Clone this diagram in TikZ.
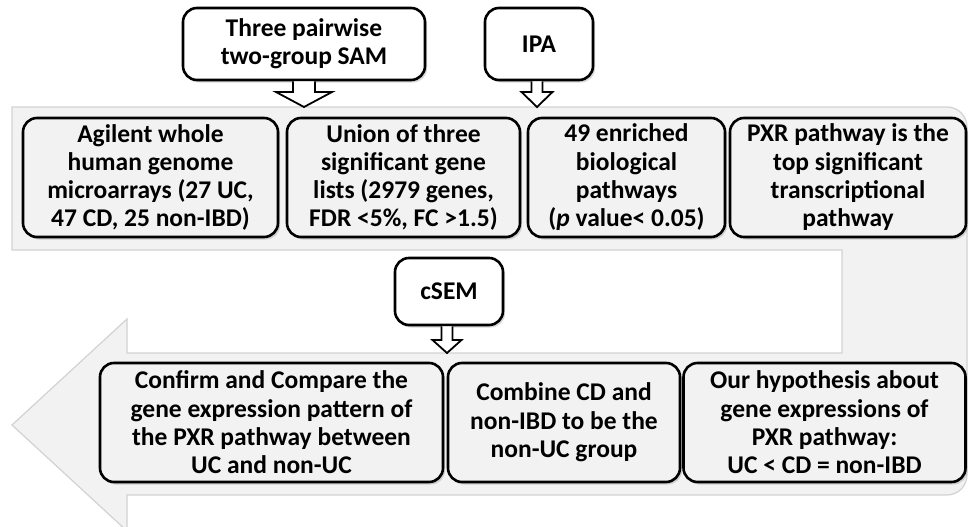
\documentclass[tikz,border=0pt]{standalone}
\usepackage{fontspec}
\setmainfont{Carlito}
\usetikzlibrary{calc,shadows}
\definecolor{bandfill}{HTML}{F2F2F2}
\definecolor{bandedge}{HTML}{D2D2D2}
\definecolor{boxfill}{HTML}{F2F2F2}
\begin{document}
\begin{tikzpicture}[x=1pt,y=-1pt,
  stepbox/.style={draw=black, line width=2.6pt, rounded corners=14pt, fill=boxfill,
    align=center, inner sep=0pt, minimum height=119pt,
    font=\fontsize{25.5}{28.3}\selectfont\bfseries,
    drop shadow={opacity=0.3, shadow xshift=2pt, shadow yshift=-2.5pt}},
  toolbox/.style={stepbox, fill=white},
  blockarr/.style={draw=black, line width=1.8pt, fill=white, line join=miter}]
\useasboundingbox (0,0) rectangle (969,527);

% U-turn band carrying the workflow
\path[fill=bandfill, draw=bandedge, line width=1.2pt]
  (12,107) -- (947,107) arc[start angle=-90, end angle=0, radius=20]
  -- (967,475) arc[start angle=0, end angle=90, radius=20]
  -- (127,495) -- (127,531) -- (12,425) -- (127,319) -- (127,353) -- (842,353)
  -- (842,250) -- (12,250) -- cycle;
\coordinate (toprow) at (0,107);
\coordinate (botrow) at (0,353);

% upper row of steps
\node[stepbox, minimum width=255pt] (agilent) at (150.5,177.5)
  {Agilent whole\\human genome\\microarrays (27 UC,\\47 CD, 25 non-IBD)};
\node[stepbox, minimum width=233pt] (union) at (403.5,177.5)
  {Union of three\\significant gene\\lists (2979 genes,\\FDR <5\%, FC >1.5)};
\node[stepbox, minimum width=197pt] (enriched) at (626.5,177.5)
  {49 enriched\\biological\\pathways\\(\textit{p} value< 0.05)};
\node[stepbox, minimum width=236pt] (pxr) at (848,177.5)
  {PXR pathway is the\\top significant\\transcriptional\\pathway};

% lower row of steps
\node[stepbox, minimum width=343pt] (confirm) at (271.5,422.5)
  {Confirm and Compare the\\gene expression pattern of\\the PXR pathway between\\UC and non-UC};
\node[stepbox, minimum width=232pt] (combine) at (564,422.5)
  {Combine CD and\\non-IBD to be the\\non-UC group};
\node[stepbox, minimum width=282pt] (hypo) at (824.5,422.5)
  {Our hypothesis about\\gene expressions of\\PXR pathway:\\UC < CD = non-IBD};

% methods feeding into the band
\node[toolbox, minimum width=242pt, minimum height=72pt] (sam) at (304,44)
  {Three pairwise\\two-group SAM};
\node[toolbox, minimum width=108pt, minimum height=72pt] (ipa) at (539,44) {IPA};
\node[toolbox, minimum width=108pt, minimum height=67pt] (csem) at (449,291.5) {cSEM};

% hollow block arrows
\coordinate (samtip) at (sam.south |- toprow);
\draw[blockarr] ($(sam.south)+(-11,0)$) -- ($(samtip)+(-11,-15)$) -- ($(samtip)+(-28,-15)$)
  -- (samtip) -- ($(samtip)+(28,-15)$) -- ($(samtip)+(11,-15)$) -- ($(sam.south)+(11,0)$);
\coordinate (ipatip) at ($(ipa.south |- toprow)+(-2,0)$);
\draw[blockarr] ($(ipatip |- ipa.south)+(-5.5,0)$) -- ($(ipatip)+(-5.5,-15)$) -- ($(ipatip)+(-15.5,-15)$)
  -- (ipatip) -- ($(ipatip)+(15.5,-15)$) -- ($(ipatip)+(5.5,-15)$) -- ($(ipatip |- ipa.south)+(5.5,0)$);
\coordinate (csemtip) at ($(csem.south |- botrow)+(-2,0)$);
\draw[blockarr] ($(csemtip |- csem.south)+(-5.5,0)$) -- ($(csemtip)+(-5.5,-13)$) -- ($(csemtip)+(-14.5,-13)$)
  -- (csemtip) -- ($(csemtip)+(14.5,-13)$) -- ($(csemtip)+(5.5,-13)$) -- ($(csemtip |- csem.south)+(5.5,0)$);
\end{tikzpicture}
\end{document}
